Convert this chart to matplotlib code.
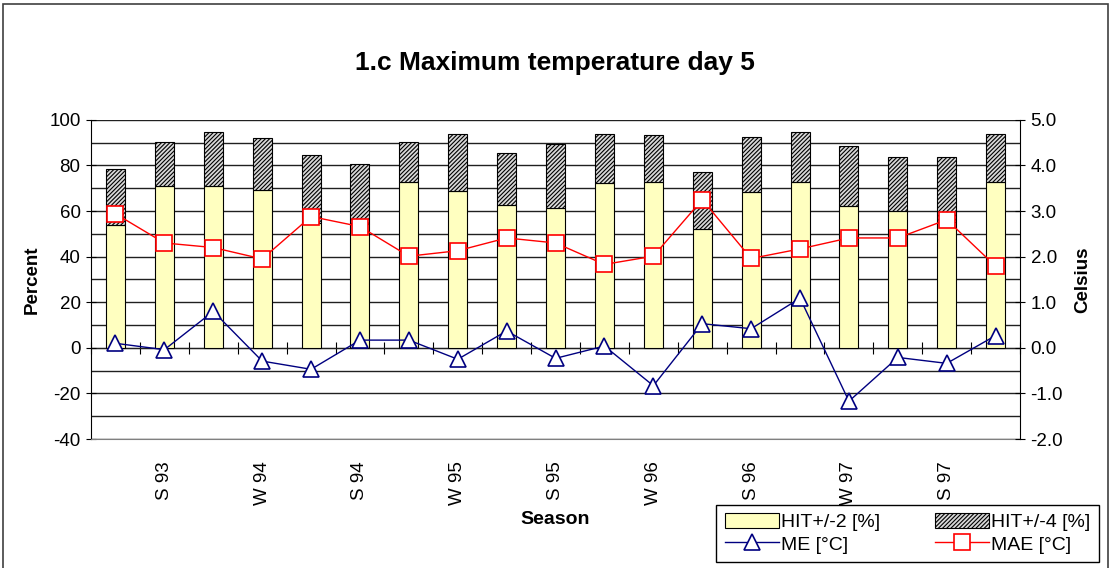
import matplotlib
matplotlib.use("Agg")
import matplotlib.pyplot as plt
from matplotlib.patches import Rectangle
import numpy as np

plt.rcParams['font.family'] = ['Liberation Sans', 'DejaVu Sans']
plt.rcParams['hatch.linewidth'] = 0.8
plt.rcParams['axes.unicode_minus'] = False

# Daten
labels = ['', 'S 93', '', 'W 94', '', 'S 94', '', 'W 95', '', 'S 95',
          '', 'W 96', '', 'S 96', '', 'W 97', '', 'S 97', '']
hit2 = [54.0, 70.8, 70.8, 69.3, 54.7, 54.5, 72.6, 68.8, 62.6, 61.3,
        72.3, 72.7, 52.1, 68.3, 72.7, 62.0, 60.1, 55.3, 72.7]
hit4 = [78.4, 90.5, 94.7, 92.0, 84.5, 80.6, 90.5, 94.0, 85.4, 89.5,
        94.0, 93.4, 77.2, 92.4, 94.7, 88.6, 83.8, 83.8, 94.0]
me = [0.10, -0.04, 0.80, -0.29, -0.47, 0.17, 0.17, -0.25, 0.37, -0.23,
      0.04, -0.83, 0.53, 0.42, 1.09, -1.17, -0.21, -0.34, 0.27]
mae = [2.94, 2.30, 2.20, 1.95, 2.88, 2.66, 2.01, 2.13, 2.41, 2.30,
       1.83, 2.01, 3.25, 1.96, 2.17, 2.41, 2.41, 2.81, 1.79]

x = np.arange(len(labels))
top_part = np.array(hit4) - np.array(hit2)

fig = plt.figure(figsize=(11.1, 5.68), dpi=100)
ax = fig.add_axes([0.082, 0.227, 0.837, 0.562])

# Gitterlinien
ax.set_ylim(-40, 100)
ax.set_xlim(-0.5, len(labels) - 0.5)
ax.set_yticks(np.arange(-40, 101, 20))
ax.set_yticks(np.arange(-30, 100, 20), minor=True)
ax.grid(axis='y', which='both', color='#202020', linewidth=1.0)
ax.set_axisbelow(True)

b1 = ax.bar(x, hit2, width=0.39, color='#ffffc0', edgecolor='black',
            linewidth=0.8, label='HIT+/-2 [%]')
b2 = ax.bar(x, top_part, bottom=hit2, width=0.39, color='#d8d8d8',
            edgecolor='black', hatch='////////', linewidth=0.8,
            label='HIT+/-4 [%]')

ax.tick_params(axis='y', which='major', direction='inout', length=7,
               labelsize=13.5, pad=4)
ax.tick_params(axis='y', which='minor', length=0)
ax.set_xticks(x)
ax.set_xticklabels(labels, rotation=90, fontsize=13.5)
ax.tick_params(axis='x', length=0, pad=16)
for s in ['top', 'right']:
    ax.spines[s].set_visible(False)
ax.spines['bottom'].set_color('#808080')
ax.spines['left'].set_color('black')

# Nulllinie mit Teilstrichen
zero_ax = ax.secondary_xaxis(40 / 140)
zero_ax.set_xticks(np.arange(len(labels) + 1) - 0.5)
zero_ax.tick_params(direction='inout', length=8, labelbottom=False,
                    labeltop=False)
zero_ax.spines['bottom'].set_color('black')

ax.set_ylabel('Percent', fontsize=13.5, fontweight='bold', labelpad=6)
ax.set_xlabel('Season', fontsize=14, fontweight='bold', labelpad=4)

ax2 = ax.twinx()
ax2.set_ylim(-2.0, 5.0)
ax2.set_yticks(np.arange(-2.0, 5.01, 1.0))
ax2.set_yticklabels([f'{v:.1f}' for v in np.arange(-2.0, 5.01, 1.0)])
ax2.tick_params(axis='y', direction='inout', length=7, labelsize=13.5, pad=4)
for s in ['top', 'left', 'bottom']:
    ax2.spines[s].set_visible(False)
ax2.spines['right'].set_color('black')

l1, = ax2.plot(x, me, color='#000080', linewidth=1.0, marker='^',
               markersize=11, markerfacecolor='white',
               markeredgecolor='#000080', markeredgewidth=1.2,
               label='ME [°C]')
l2, = ax2.plot(x, mae, color='red', linewidth=1.0, marker='s',
               markersize=11, markerfacecolor='white',
               markeredgecolor='red', markeredgewidth=1.2,
               label='MAE [°C]')
ax2.set_ylabel('Celsius', fontsize=13.5, fontweight='bold', labelpad=8)

fig.suptitle('1.c Maximum temperature day 5', fontsize=19,
             fontweight='bold', y=0.91)

fig.legend([b1, l1, b2, l2],
           ['HIT+/-2 [%]', 'ME [°C]', 'HIT+/-4 [%]', 'MAE [°C]'],
           ncol=2, loc='lower right', bbox_to_anchor=(0.99, 0.01),
           fontsize=14, frameon=True, fancybox=False, edgecolor='black',
           framealpha=1, handlelength=2.8, handleheight=0.8,
           columnspacing=2.8, labelspacing=0.2, borderpad=0.45,
           handletextpad=0.1, borderaxespad=0)

# Rahmen um das Diagramm
fig.patches.append(Rectangle((3 / 1110, -0.02), 1105 / 1110, 1.0 - 4 / 568 + 0.02,
                             transform=fig.transFigure, fill=False,
                             edgecolor='#404040', linewidth=1.2))

fig.savefig('out.png', dpi=100)
